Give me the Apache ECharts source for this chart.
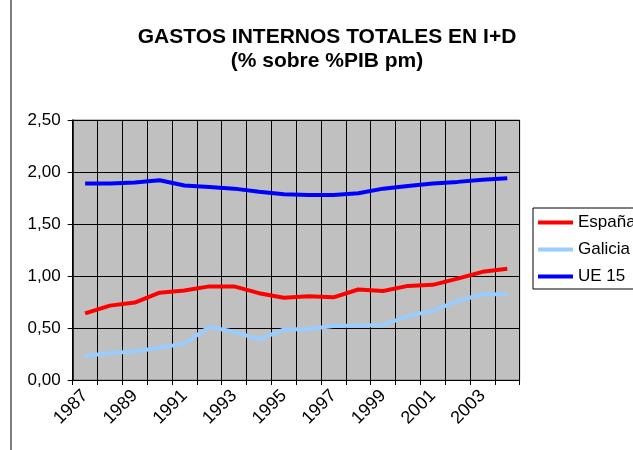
<!DOCTYPE html>
<html>
<head>
<meta charset="utf-8">
<script src="https://cdn.jsdelivr.net/npm/echarts@6/dist/echarts.min.js"></script>
<style>
    html, body { margin: 0; padding: 0; background: #fff; }
    #chart { width: 633px; height: 450px; }
</style>
</head>
<body>
<div id="chart"></div>
<script>
    // años
    var years = ['1987', '1988', '1989', '1990', '1991', '1992', '1993', '1994', '1995',
        '1996', '1997', '1998', '1999', '2000', '2001', '2002', '2003', '2004'];
    var espana = [0.64, 0.715, 0.745, 0.84, 0.86, 0.90, 0.90, 0.835, 0.79,
        0.805, 0.795, 0.87, 0.855, 0.905, 0.915, 0.975, 1.04, 1.07];
    var galicia = [0.23, 0.26, 0.275, 0.31, 0.35, 0.51, 0.465, 0.39, 0.485,
        0.49, 0.52, 0.525, 0.53, 0.615, 0.665, 0.76, 0.825, 0.825];
    var ue15 = [1.89, 1.89, 1.90, 1.92, 1.87, 1.855, 1.84, 1.81, 1.785,
        1.78, 1.78, 1.795, 1.84, 1.865, 1.89, 1.905, 1.925, 1.94];

    var font = 'Liberation Sans, Arial, sans-serif';

    var option = {
        animation: false,
        backgroundColor: '#fff',
        title: {
            text: 'GASTOS INTERNOS TOTALES EN I+D\n(% sobre %PIB pm)',
            left: 327,
            textAlign: 'center',
            top: 25,
            padding: 0,
            textStyle: {
                fontFamily: font,
                fontSize: 21,
                fontWeight: 'bold',
                color: '#000',
                lineHeight: 24
            }
        },
        legend: {
            orient: 'vertical',
            left: 533,
            top: 208,
            padding: [6, 20, 4, 5],
            itemGap: 10,
            itemWidth: 35,
            itemHeight: 4,
            icon: 'rect',
            borderColor: '#000',
            borderWidth: 1,
            textStyle: { fontFamily: font, fontSize: 17, color: '#000' },
            data: ['España', 'Galicia', 'UE 15']
        },
        graphic: [{
            type: 'line',
            shape: { x1: 11, y1: 0, x2: 11, y2: 450 },
            style: { stroke: '#000', lineWidth: 1 }
        }],
        grid: {
            left: 72.7,
            right: 113.3,
            top: 120,
            bottom: 70,
            show: true,
            backgroundColor: '#C0C0C0',
            borderColor: '#808080',
            borderWidth: 1
        },
        xAxis: {
            type: 'category',
            data: years,
            boundaryGap: true,
            axisLine: { lineStyle: { color: '#000', width: 1 } },
            axisTick: { show: true, length: 5, interval: 0, lineStyle: { color: '#000' } },
            splitLine: { show: true, interval: 0, lineStyle: { color: '#000', width: 1 } },
            axisLabel: {
                interval: 1,
                rotate: 45,
                margin: 13,
                fontFamily: font,
                fontSize: 18,
                color: '#000'
            }
        },
        yAxis: {
            type: 'value',
            min: 0,
            max: 2.5,
            interval: 0.5,
            axisLine: { show: true, lineStyle: { color: '#000', width: 1.5 } },
            axisTick: { show: true, length: 5, lineStyle: { color: '#000' } },
            splitLine: { show: true, lineStyle: { color: '#000', width: 1 } },
            axisLabel: {
                margin: 12,
                fontFamily: font,
                fontSize: 17,
                color: '#000',
                formatter: function (v) { return v.toFixed(2).replace('.', ','); }
            }
        },
        series: [
            {
                name: 'España',
                type: 'line',
                data: espana,
                showSymbol: false,
                symbol: 'none',
                color: '#FF0000',
                lineStyle: { width: 4, color: '#FF0000' }
            },
            {
                name: 'Galicia',
                type: 'line',
                data: galicia,
                showSymbol: false,
                symbol: 'none',
                color: '#99CCFF',
                lineStyle: { width: 4, color: '#99CCFF' }
            },
            {
                name: 'UE 15',
                type: 'line',
                data: ue15,
                showSymbol: false,
                symbol: 'none',
                color: '#0000FF',
                lineStyle: { width: 4, color: '#0000FF' }
            }
        ]
    };

    echarts.init(document.getElementById('chart')).setOption(option);
</script>
</body>
</html>
